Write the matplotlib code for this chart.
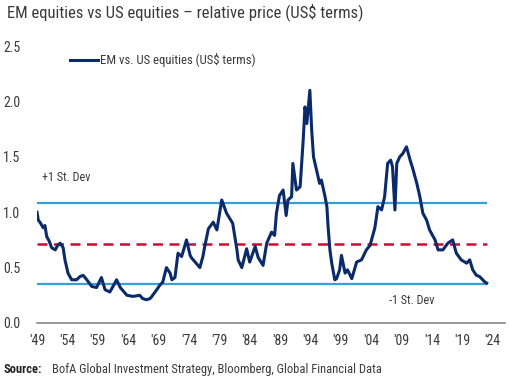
import matplotlib
matplotlib.use("Agg")
import matplotlib.pyplot as plt

plt.rcParams['font.family'] = ['Roboto Condensed', 'Roboto', 'DejaVu Sans']

# traced series: year, EM/US relative price
years = [1949.0, 1949.2, 1949.6, 1950.0, 1950.3, 1950.6, 1951.0, 1951.4, 1952.0, 1952.4,
         1952.8, 1953.3, 1953.6, 1954.1, 1954.7, 1955.5, 1956.1, 1956.6, 1957.2, 1958.0,
         1958.8, 1959.6, 1960.2, 1961.0, 1962.1, 1962.7, 1963.8, 1964.8, 1965.9, 1966.4,
         1967.0, 1967.6, 1967.9, 1968.7, 1969.2, 1969.7, 1970.3, 1970.9, 1971.2, 1971.7,
         1972.2, 1972.8, 1973.6, 1974.2, 1974.4, 1975.8, 1976.3, 1976.6, 1977.2, 1978.0,
         1978.6, 1979.4, 1980.2, 1981.2, 1981.9, 1982.1, 1982.7, 1983.5, 1984.0, 1984.9,
         1985.4, 1986.2, 1986.8, 1987.6, 1988.1, 1988.4, 1988.9, 1989.5, 1990.0, 1990.3,
         1990.9, 1991.1, 1991.7, 1992.3, 1992.8, 1993.1, 1993.4, 1993.6, 1993.9, 1994.2,
         1994.5, 1995.0, 1995.5, 1995.8, 1996.4, 1996.7, 1996.9, 1997.2, 1997.5, 1998.0,
         1998.3, 1998.8, 1999.1, 1999.7, 2000.1, 2000.8, 2001.6, 2002.4, 2003.2, 2003.8,
         2004.6, 2005.1, 2005.7, 2006.2, 2006.7, 2007.2, 2007.5, 2007.9, 2008.2, 2008.7,
         2009.2, 2009.8, 2010.4, 2010.8, 2011.5, 2012.0, 2012.5, 2013.1, 2013.6, 2014.5,
         2015.0, 2015.8, 2016.6, 2017.4, 2018.0, 2018.8, 2019.7, 2020.2, 2020.7, 2021.3,
         2021.8, 2022.7, 2023.0]
rel_price = [1.00, 0.93, 0.90, 0.86, 0.88, 0.78, 0.74, 0.68, 0.66, 0.70,
             0.72, 0.68, 0.57, 0.45, 0.39, 0.39, 0.42, 0.43, 0.39, 0.33,
             0.32, 0.41, 0.30, 0.28, 0.39, 0.32, 0.25, 0.24, 0.25, 0.22,
             0.21, 0.22, 0.24, 0.30, 0.34, 0.37, 0.50, 0.45, 0.39, 0.41,
             0.63, 0.60, 0.75, 0.61, 0.59, 0.50, 0.60, 0.69, 0.85, 0.91,
             0.84, 1.11, 0.99, 0.90, 0.66, 0.57, 0.50, 0.67, 0.55, 0.69,
             0.59, 0.52, 0.72, 0.82, 0.79, 0.99, 1.15, 1.20, 0.97, 1.11,
             1.14, 1.44, 1.20, 1.23, 1.65, 1.95, 1.80, 1.92, 2.10, 1.74,
             1.50, 1.38, 1.26, 1.29, 1.14, 1.05, 0.87, 0.66, 0.54, 0.39,
             0.40, 0.48, 0.61, 0.45, 0.48, 0.40, 0.55, 0.57, 0.66, 0.70,
             0.86, 1.05, 1.02, 1.14, 1.44, 1.47, 1.41, 1.02, 1.44, 1.50,
             1.53, 1.59, 1.47, 1.40, 1.26, 1.14, 0.99, 0.93, 0.84, 0.75,
             0.66, 0.66, 0.72, 0.75, 0.63, 0.57, 0.54, 0.57, 0.48, 0.43,
             0.42, 0.37, 0.36]

plus_sd = 1.08
mean_val = 0.71
minus_sd = 0.35

xtick_years = list(range(1949, 2025, 5))
xtick_labels = ["'" + str(y)[2:] for y in xtick_years]
yticks = [0.0, 0.5, 1.0, 1.5, 2.0, 2.5]

fig = plt.figure(figsize=(5.09, 3.79), dpi=100)
ax = fig.add_axes([0.0727, 0.1478, 0.9193, 0.7308])

navy = "#0b2a6b"
txt = "#3a3a3a"
ax.hlines([plus_sd, minus_sd], years[0], years[-1], color="#34a0da", lw=1.6, zorder=2)
ax.hlines(mean_val, years[0], years[-1], color="#c8102e", lw=1.8, linestyles=(0, (4, 2.6)), zorder=2)
ax.plot(years, rel_price, color=navy, lw=2.2, zorder=3, solid_joinstyle="round",
        label="EM vs. US equities (US$ terms)")

ax.set_xlim(1949, 2026)
ax.set_ylim(0, 2.5)
ax.set_xticks(xtick_years)
ax.set_xticklabels(xtick_labels)
ax.set_yticks(yticks)
ax.set_yticklabels([f"{v:.1f}" for v in yticks])
ax.tick_params(length=0, labelsize=10, colors=txt)
ax.tick_params(axis="y", pad=12)
ax.tick_params(axis="x", pad=8)
for s in ["top", "right", "left"]:
    ax.spines[s].set_visible(False)
ax.spines["bottom"].set_color("#888888")
ax.spines["bottom"].set_linewidth(1.2)

ax.text(1949.8, 1.28, "+1 St. Dev", fontsize=8.7, color=txt)
ax.text(2006.9, 0.17, "-1 St. Dev", fontsize=8.7, color=txt)

ax.legend(loc="upper left", bbox_to_anchor=(0.045, 1.015), frameon=False, fontsize=9.2,
          handlelength=2.2, handletextpad=0.15, labelcolor=txt)

fig.text(0.014, 0.955, "EM equities vs US equities \u2013 relative price (US$ terms)",
         fontsize=12, color=txt, va="baseline")

# source line: bold label, then the rest just after it
src = fig.text(0.006, 0.015, "Source:", fontsize=9, fontweight="bold", color="#222222")
fig.canvas.draw()
bb = src.get_window_extent().transformed(fig.transFigure.inverted())
fig.text(bb.x1 + 0.02, 0.015, "BofA Global Investment Strategy, Bloomberg, Global Financial Data",
         fontsize=9, color=txt)

fig.savefig("out.png", dpi=100)
